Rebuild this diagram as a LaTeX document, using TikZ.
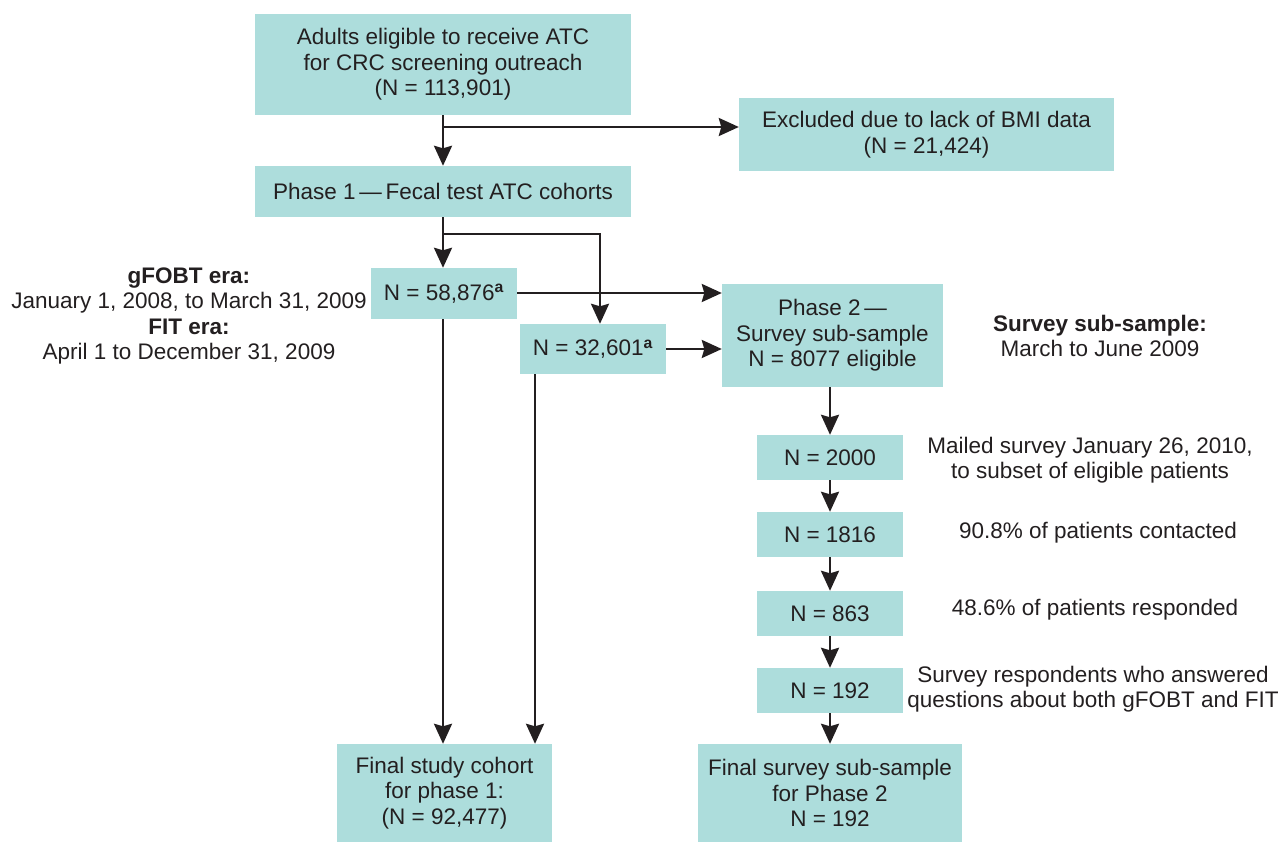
\documentclass[tikz,border=0pt]{standalone}
\usepackage{fontspec}
\setmainfont{Liberation Sans}
\usetikzlibrary{arrows.meta}
\definecolor{boxc}{HTML}{ADDDDC}
\definecolor{ink}{HTML}{231F20}
\begin{document}
\begin{tikzpicture}[x=1pt,y=-1pt,
  bx/.style={fill=boxc, draw=none, inner sep=0pt, align=center, text=ink,
    font=\fontsize{22.5}{25.5}\selectfont},
  note/.style={align=center, text=ink, inner sep=0pt,
    font=\fontsize{22.5}{25.5}\selectfont},
  arr/.style={draw=ink, line width=2.6pt, -{Stealth[length=20pt,width=18pt,inset=2.5pt]}},
  ln/.style={draw=ink, line width=2.6pt}]
\useasboundingbox (0,0) rectangle (1287,842);

% boxes
\node[bx, minimum width=376pt, minimum height=101pt] (A) at (443,64.5)
  {Adults eligible to receive ATC\\for CRC screening outreach\\(N = 113,901)};
\node[bx, minimum width=375pt, minimum height=73pt] (EX) at (926.5,134.5)
  {Excluded due to lack of BMI data\\(N = 21,424)};
\node[bx, minimum width=376pt, minimum height=51pt] (P1) at (443,191.5)
  {Phase 1\,—\,Fecal test ATC cohorts};
\node[bx, minimum width=146pt, minimum height=51pt] (B58) at (444,293.5)
  {N = 58,876\textsuperscript{\textbf{a}}};
\node[bx, minimum width=146pt, minimum height=50pt] (B32) at (593,349)
  {N = 32,601\textsuperscript{\textbf{a}}};
\node[bx, minimum width=221pt, minimum height=103pt] (P2) at (832.5,335.5)
  {Phase 2\,—\\Survey sub-sample\\N = 8077 eligible};
\node[bx, minimum width=146pt, minimum height=45pt] (S1) at (830,457.5) {N = 2000};
\node[bx, minimum width=146pt, minimum height=45pt] (S2) at (830,534.5) {N = 1816};
\node[bx, minimum width=146pt, minimum height=45pt] (S3) at (830,613.5) {N = 863};
\node[bx, minimum width=146pt, minimum height=45pt] (S4) at (830,690.5) {N = 192};
\node[bx, minimum width=215pt, minimum height=98pt] (F1) at (444.5,793)
  {Final study cohort\\for phase 1:\\(N = 92,477)};
\node[bx, minimum width=264pt, minimum height=98pt] (F2) at (830,793)
  {Final survey sub-sample\\for Phase 2\\N = 192};

% notes
\node[note] (L) at (189,316)
  {\textbf{gFOBT era:}\\January 1, 2008, to March 31, 2009\\\textbf{FIT era:}\\April 1 to December 31, 2009};
\node[note] (SS) at (1100,336) {\textbf{Survey sub-sample:}\\March to June 2009};
\node[note] (T1) at (1090,460) {Mailed survey January 26, 2010,\\to subset of eligible patients};
\node[note] (T2) at (1098,533) {90.8\% of patients contacted};
\node[note] (T3) at (1095,610) {48.6\% of patients responded};
\node[note] (T4) at (1093,689) {Survey respondents who answered\\questions about both gFOBT and FIT};

% connectors
\coordinate (a1) at (443,127);
\coordinate (b1) at (443,234);
\coordinate (b2) at (600,234);
\coordinate (c58) at (517,293);
\coordinate (c32) at (666,349);
\coordinate (d58) at (443,319);
\coordinate (d32) at (535,374);

\draw[arr] (A.south -| a1) -- (P1.north -| a1);
\draw[arr] (a1) -- (a1 -| EX.west);
\draw[arr] (P1.south -| b1) -- (B58.north -| b1);
\draw[arr] (b1) -- (b2) -- (b2 |- B32.north);
\draw[arr] (c58) -- (c58 -| P2.west);
\draw[arr] (c32) -- (c32 -| P2.west);
\draw[arr] (P2.south -| S1.north) -- (S1.north);
\draw[arr] (S1.south) -- (S2.north);
\draw[arr] (S2.south) -- (S3.north);
\draw[arr] (S3.south) -- (S4.north);
\draw[arr] (S4.south) -- (F2.north -| S4.south);
\draw[arr] (d58) -- (d58 |- F1.north);
\draw[arr] (d32) -- (d32 |- F1.north);
\end{tikzpicture}
\end{document}
